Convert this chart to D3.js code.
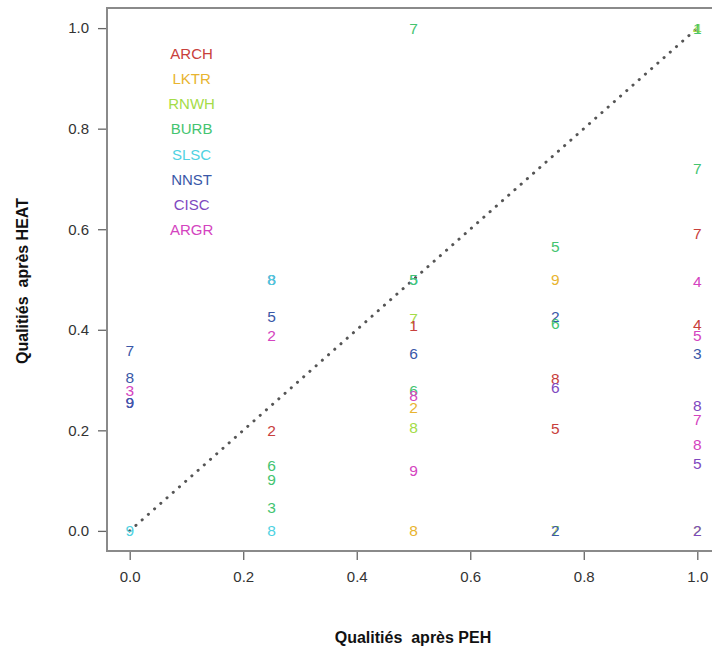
<!DOCTYPE html>
<html>
<head>
<meta charset="utf-8">
<script src="https://cdn.jsdelivr.net/npm/d3@7"></script>
<style>
  body { margin: 0; background: #fff; }
  text { font-family: "Liberation Sans", Arial, sans-serif; }
</style>
</head>
<body>
<script>
  // categories and their colours (legend order)
  var categories = ["ARCH", "LKTR", "RNWH", "BURB", "SLSC", "NNST", "CISC", "ARGR"];
  var catColors = ["#c8403c", "#e8b430", "#a4dc48", "#44c470", "#50d2e2", "#3a58a8", "#8048c0", "#d444c0"];

  var xTicks = [0, 0.2, 0.4, 0.6, 0.8, 1.0];
  var yTicks = [0, 0.2, 0.4, 0.6, 0.8, 1.0];

  // points: [PEH, HEAT, label, category]
  var col0 = [
    [0, 0.358, "7", "NNST"],
    [0, 0.306, "8", "NNST"],
    [0, 0.280, "3", "ARGR"],
    [0, 0.255, "9", "CISC"],
    [0, 0.255, "9", "NNST"],
    [0, 0.0, "9", "SLSC"]
  ];
  var col25 = [
    [0.25, 0.5, "8", "NNST"],
    [0.25, 0.5, "8", "SLSC"],
    [0.25, 0.427, "5", "NNST"],
    [0.25, 0.388, "2", "ARGR"],
    [0.25, 0.2, "2", "ARCH"],
    [0.25, 0.131, "6", "BURB"],
    [0.25, 0.103, "9", "BURB"],
    [0.25, 0.046, "3", "BURB"],
    [0.25, 0.0, "8", "SLSC"]
  ];
  var col50 = [
    [0.5, 1.0, "7", "BURB"],
    [0.5, 0.5, "5", "SLSC"],
    [0.5, 0.5, "5", "BURB"],
    [0.5, 0.422, "7", "RNWH"],
    [0.5, 0.408, "1", "ARCH"],
    [0.5, 0.352, "6", "NNST"],
    [0.5, 0.280, "6", "BURB"],
    [0.5, 0.270, "8", "ARGR"],
    [0.5, 0.245, "2", "LKTR"],
    [0.5, 0.205, "8", "RNWH"],
    [0.5, 0.121, "9", "ARGR"],
    [0.5, 0.0, "8", "LKTR"]
  ];
  var col75 = [
    [0.75, 0.565, "5", "BURB"],
    [0.75, 0.5, "9", "LKTR"],
    [0.75, 0.427, "2", "NNST"],
    [0.75, 0.413, "6", "BURB"],
    [0.75, 0.304, "8", "ARCH"],
    [0.75, 0.286, "6", "CISC"],
    [0.75, 0.203, "5", "ARCH"],
    [0.75, 0.0, "7", "RNWH"],
    [0.75, 0.0, "2", "NNST"]
  ];
  var col100 = [
    [1, 1.0, "4", "RNWH"],
    [1, 1.0, "1", "BURB"],
    [1, 0.72, "7", "BURB"],
    [1, 0.592, "7", "ARCH"],
    [1, 0.497, "4", "ARGR"],
    [1, 0.41, "4", "ARCH"],
    [1, 0.388, "5", "ARGR"],
    [1, 0.352, "3", "NNST"],
    [1, 0.249, "8", "CISC"],
    [1, 0.221, "7", "ARGR"],
    [1, 0.171, "8", "ARGR"],
    [1, 0.135, "5", "CISC"],
    [1, 0.0, "2", "RNWH"],
    [1, 0.0, "2", "CISC"]
  ];

  var points = col0.concat(col25, col50, col75, col100);

  var width = 712, height = 650;
  var margin = { top: 8, left: 107, right: -8, bottom: 99 };

  var x = d3.scaleLinear()
    .domain([-0.04, 1.04])
    .range([margin.left, width - margin.right]);

  var y = d3.scaleLinear()
    .domain([-0.04, 1.04])
    .range([height - margin.bottom, margin.top]);

  var color = d3.scaleOrdinal()
    .domain(categories)
    .range(catColors);

  var svg = d3.select("body")
    .append("svg")
    .attr("width", width)
    .attr("height", height);

  // axes
  var xAxis = svg.append("g")
    .attr("transform", "translate(0," + (height - margin.bottom) + ")")
    .call(d3.axisBottom(x).tickValues(xTicks).tickFormat(d3.format(".1f")).tickSize(9).tickPadding(11));

  var yAxis = svg.append("g")
    .attr("transform", "translate(" + margin.left + ",0)")
    .call(d3.axisLeft(y).tickValues(yTicks).tickFormat(d3.format(".1f")).tickSize(9).tickPadding(9));

  [xAxis, yAxis].forEach(function(a) {
    a.select(".domain").remove();
    a.selectAll(".tick line").attr("stroke", "#666").attr("stroke-width", 1.3);
    a.selectAll(".tick text")
      .attr("fill", "#333")
      .style("font-size", "15px")
      .style("font-family", "Liberation Sans, Arial, sans-serif");
  });

  // plot box
  svg.append("rect")
    .attr("x", margin.left)
    .attr("y", margin.top)
    .attr("width", width - margin.right - margin.left)
    .attr("height", height - margin.bottom - margin.top)
    .attr("fill", "none")
    .attr("stroke", "#8a8a8a")
    .attr("stroke-width", 2);

  // diagonal
  svg.append("line")
    .attr("x1", x(0)).attr("y1", y(0))
    .attr("x2", x(1)).attr("y2", y(1))
    .attr("stroke", "#555")
    .attr("stroke-width", 3)
    .attr("stroke-linecap", "round")
    .attr("stroke-dasharray", "0.1,8.2");

  // numbered points
  svg.append("g").selectAll(".pt")
    .data(points)
    .enter().append("text")
    .attr("class", "pt")
    .attr("x", function(d) { return x(d[0]); })
    .attr("y", function(d) { return y(d[1]); })
    .attr("dy", "0.36em")
    .attr("text-anchor", "middle")
    .attr("fill", function(d) { return color(d[3]); })
    .style("font-size", "15.5px")
    .text(function(d) { return d[2]; });

  // legend
  svg.append("g").selectAll(".leg")
    .data(categories)
    .enter().append("text")
    .attr("class", "leg")
    .attr("x", x(0.109))
    .attr("y", function(d, i) { return y(0.95 - i * 0.0502); })
    .attr("dy", "0.36em")
    .attr("text-anchor", "middle")
    .attr("fill", function(d) { return color(d); })
    .style("font-size", "15px")
    .text(function(d) { return d; });

  // axis titles
  svg.append("text")
    .attr("x", 413)
    .attr("y", 637)
    .attr("dy", "0.36em")
    .attr("text-anchor", "middle")
    .attr("fill", "#111")
    .style("font-size", "16px")
    .style("font-weight", "bold")
    .style("white-space", "pre")
    .text("Qualitiés  après PEH");

  svg.append("text")
    .attr("transform", "translate(22,281) rotate(-90)")
    .attr("dy", "0.36em")
    .attr("text-anchor", "middle")
    .attr("fill", "#111")
    .style("font-size", "16px")
    .style("font-weight", "bold")
    .style("white-space", "pre")
    .text("Qualitiés  après HEAT");
</script>
</body>
</html>
